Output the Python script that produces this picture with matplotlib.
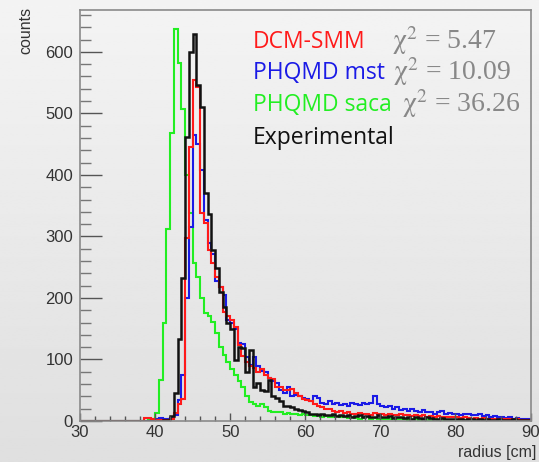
import matplotlib.pyplot as plt
import numpy as np

# bin edges of the radius histograms, 0.5 cm wide from 30 to 90 cm
r_min, r_max, r_step = 30, 90, 0.5

# counts per bin (rows of 10 bins = 5 cm)
dcm_smm = [0, 0, 0, 0, 0, 0, 0, 0, 0, 0,
           0, 0, 0, 0, 0, 0, 0, 5, 5, 4,
           2, 1, 1, 2, 3, 13, 27, 35, 298, 445,
           554, 543, 338, 322, 278, 257, 234, 218, 177, 170,
           165, 153, 123, 105, 96, 90, 86, 80, 85, 75,
           70, 68, 55, 55, 50, 50, 52, 45, 40, 36,
           34, 33, 28, 25, 22, 20, 20, 17, 15, 16,
           13, 14, 12, 11, 13, 12, 12, 10, 13, 11,
           12, 10, 11, 9, 10, 12, 9, 10, 8, 10,
           8, 9, 7, 8, 7, 8, 6, 7, 6, 7,
           6, 5, 6, 5, 4, 5, 4, 5, 4, 3,
           4, 3, 4, 3, 3, 2, 3, 2, 2, 2]

phqmd_mst = [0, 0, 0, 0, 0, 0, 0, 0, 0, 0,
             0, 0, 0, 0, 0, 0, 0, 0, 0, 1,
             3, 5, 3, 4, 5, 10, 34, 75, 200, 315,
             465, 450, 408, 327, 290, 272, 228, 218, 205, 165,
             160, 150, 127, 125, 104, 91, 104, 89, 82, 80,
             70, 65, 62, 50, 45, 55, 40, 42, 40, 38,
             35, 33, 40, 38, 30, 28, 32, 27, 30, 26,
             28, 25, 30, 27, 26, 30, 28, 30, 40, 27,
             24, 22, 25, 20, 22, 18, 20, 17, 20, 16,
             15, 18, 14, 15, 12, 14, 16, 12, 13, 11,
             12, 10, 11, 12, 9, 10, 11, 8, 9, 7,
             8, 6, 7, 5, 6, 4, 5, 4, 3, 3]

phqmd_saca = [0, 0, 0, 0, 0, 0, 0, 0, 0, 0,
              0, 0, 0, 0, 0, 0, 0, 0, 1, 3,
              13, 67, 160, 312, 468, 637, 582, 507, 400, 338,
              257, 234, 200, 176, 170, 161, 143, 120, 108, 96,
              85, 75, 65, 55, 40, 31, 28, 24, 28, 22,
              16, 15, 14, 15, 12, 13, 11, 12, 10, 11,
              10, 9, 8, 9, 7, 8, 6, 7, 8, 6,
              6, 5, 6, 5, 4, 5, 6, 4, 5, 4,
              4, 3, 4, 5, 3, 4, 3, 2, 3, 3,
              2, 3, 2, 2, 3, 1, 2, 2, 1, 2,
              1, 2, 1, 1, 2, 1, 1, 1, 0, 1,
              1, 0, 1, 1, 0, 1, 0, 0, 1, 0]

experimental = [0, 0, 0, 0, 0, 0, 0, 0, 0, 0,
                0, 0, 0, 0, 0, 0, 0, 0, 0, 0,
                0, 0, 1, 2, 8, 45, 133, 232, 462, 600,
                629, 546, 510, 370, 336, 278, 249, 210, 185, 160,
                150, 99, 120, 118, 80, 115, 55, 61, 50, 48,
                67, 40, 38, 32, 25, 25, 22, 20, 18, 16,
                14, 12, 12, 10, 11, 9, 10, 12, 8, 9,
                8, 9, 7, 8, 10, 7, 8, 6, 7, 9,
                6, 7, 8, 5, 6, 7, 5, 6, 4, 6,
                5, 4, 6, 5, 3, 4, 5, 3, 4, 3,
                4, 3, 2, 4, 3, 2, 3, 2, 3, 2,
                2, 3, 2, 1, 2, 3, 2, 1, 2, 1]

labels = ['DCM-SMM', 'PHQMD mst', 'PHQMD saca', 'Experimental']
chi2 = ['5.47', '10.09', '36.26', None]
colors = ['#ff1a1a', '#1a1ae6', '#22ee22', '#111111']

edges = np.arange(r_min, r_max + r_step / 2, r_step)

plt.rcParams['mathtext.fontset'] = 'stix'

fig = plt.figure(figsize=(5.39, 4.62), dpi=100)

# light grey canvas gradient, like the ROOT canvas
bg = fig.add_axes([0, 0, 1, 1], zorder=-1)
grad = np.linspace(0.955, 0.875, 256).reshape(-1, 1)
bg.imshow(grad, cmap='gray', vmin=0, vmax=1, aspect='auto')
bg.axis('off')

ax = fig.add_axes([0.1484, 0.0887, 0.836, 0.8896])
ax.set_facecolor('none')

series = [phqmd_saca, phqmd_mst, dcm_smm, experimental]
series_colors = [colors[2], colors[1], colors[0], colors[3]]
widths = [1.5, 1.5, 1.5, 1.8]
for vals, c, lw in zip(series, series_colors, widths):
    ax.stairs(vals, edges, color=c, linewidth=lw, baseline=None)

ax.set_xlim(30, 90)
ax.set_ylim(0, 668)
ax.set_xticks([30, 40, 50, 60, 70, 80, 90])
ax.set_xticks(np.arange(30, 91, 2), minor=True)
ax.set_yticks([0, 100, 200, 300, 400, 500, 600])
ax.set_yticks(np.arange(0, 661, 20), minor=True)

for s in ax.spines.values():
    s.set_color('#8a8a8a')
    s.set_linewidth(1.2)

ax.tick_params(axis='x', which='major', direction='in', length=6, width=1,
               color='#555555', labelsize=12, pad=3, labelcolor='#333333')
ax.tick_params(axis='x', which='minor', direction='in', length=3.5, width=1,
               color='#555555')
ax.tick_params(axis='y', which='major', direction='in', length=16, width=1,
               color='#555555', labelsize=12, pad=5, labelcolor='#333333')
ax.tick_params(axis='y', which='minor', direction='in', length=8, width=1,
               color='#777777')
for lab in ax.get_xticklabels() + ax.get_yticklabels():
    lab.set_family('Liberation Sans')

fig.text(0.048, 0.985, 'counts', rotation=90, ha='center', va='top',
         fontsize=11.5, family='Liberation Sans', color='#333333')
fig.text(0.996, 0.004, 'radius [cm]', ha='right', va='bottom',
         fontsize=11.5, family='Liberation Sans', color='#333333')

# legend-like labels with chi2 values
label_x = 253 / 539
chi_x = [392 / 539, 393 / 539, 402 / 539]
rows_y = [42, 73, 105, 138]
for i, (lab, c) in enumerate(zip(labels, colors)):
    y = 1 - rows_y[i] / 462
    fig.text(label_x, y, lab, color=c, fontsize=16.5, ha='left', va='center',
             family=['Open Sans', 'DejaVu Sans'])
    if chi2[i] is not None:
        fig.text(chi_x[i], y + 0.004, r'$\mathrm{\chi}^{2}$ = ' + chi2[i],
                 color='#888888', fontsize=20, ha='left', va='center',
                 family=['Liberation Serif', 'DejaVu Serif'])

fig.savefig('out.png', dpi=100)
